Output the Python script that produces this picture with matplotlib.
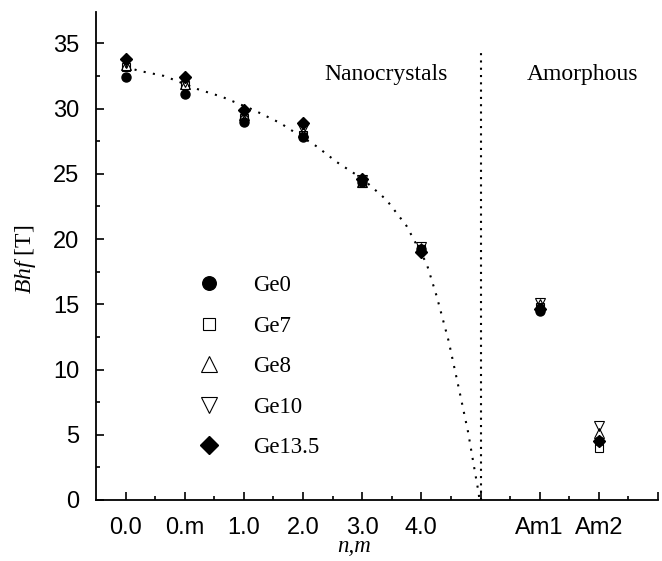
import numpy as np
import matplotlib.pyplot as plt

plt.rcParams["mathtext.fontset"] = "custom"
plt.rcParams["mathtext.it"] = "Liberation Serif:italic"
plt.rcParams["mathtext.rm"] = "Liberation Serif"

# tick positions / labels on the category axis
tick_pos = [1, 2, 3, 4, 5, 6, 7, 8, 9, 10]
tick_labels = ["0.0", "0.m", "1.0", "2.0", "3.0", "4.0", "", "Am1", "Am2", ""]

# sample positions (nanocrystals 0.0 .. 4.0, then Am1, Am2)
x = [1, 2, 3, 4, 5, 6, 8, 9]

ge0 = [32.4, 31.1, 29.0, 27.8, 24.4, 19.2, 14.5, 4.5]
ge7 = [33.2, 31.8, 29.3, 28.0, 24.3, 19.2, 14.8, 4.0]
ge8 = [33.3, 31.9, 29.5, 28.2, 24.4, 19.3, 15.0, 5.1]
ge10 = [33.5, 32.0, 29.6, 28.4, 24.5, 19.4, 15.1, 5.7]
ge135 = [33.8, 32.4, 29.9, 28.9, 24.6, 19.0, 14.6, 4.5]

# dotted guide curve
curve_x = [1.0, 1.22, 1.65, 2.21, 2.63, 3.16, 3.61, 4.23, 4.57, 5.01, 5.41,
           5.75, 6.09, 6.26, 6.46, 6.65, 6.79, 6.90, 6.97, 6.98]
curve_y = [33.2, 32.9, 32.5, 31.5, 30.9, 29.9, 28.9, 27.1, 25.9, 24.6, 23.0,
           21.0, 18.1, 15.6, 12.2, 8.2, 5.2, 2.3, 0.5, 0.0]

divider_x = 7
divider_top = 34.5

fig = plt.figure(figsize=(6.62, 5.61), dpi=100)
ax = fig.add_axes([96 / 662, 1 - 500 / 561, 562 / 662, 488 / 561])

dots = (0, (1, 3.5))
ax.plot(curve_x, curve_y, ls=dots, color="black", lw=1.5)
ax.plot([divider_x, divider_x], [0, divider_top], ls=(0, (1, 2.5)), color="black", lw=1.5)

ax.plot(x, ge0, "o", ms=6.5, color="black", ls="none", label="Ge0")
ax.plot(x, ge7, "s", ms=6, mfc="none", mec="black", mew=0.8, ls="none", label="Ge7")
ax.plot(x, ge8, "^", ms=7.5, mfc="none", mec="black", mew=0.8, ls="none", label="Ge8")
ax.plot(x, ge10, "v", ms=7.5, mfc="none", mec="black", mew=0.8, ls="none", label="Ge10")
ax.plot(x, ge135, "D", ms=6, color="black", ls="none", label="Ge13.5")

ax.set_xlim(0.5, 10)
ax.set_ylim(0, 37.4)
ax.set_xticks(tick_pos)
ax.set_xticklabels(tick_labels, family="Liberation Sans", fontsize=17)
ax.set_xticks(np.arange(1.5, 10, 1), minor=True)
ax.set_yticks(np.arange(0, 36, 5))
ax.set_yticklabels([str(v) for v in range(0, 36, 5)], family="Liberation Sans", fontsize=17)
ax.set_yticks(np.arange(2.5, 36, 5), minor=True)
ax.tick_params(which="both", direction="in", width=1.2, pad=12)
ax.tick_params(which="major", length=6)
ax.tick_params(which="minor", length=3)

for s in ["top", "right"]:
    ax.spines[s].set_visible(False)
for s in ["left", "bottom"]:
    ax.spines[s].set_linewidth(1.3)

ax.text(5.40, 32.6, "Nanocrystals", family="Liberation Serif", fontsize=17,
        ha="center", va="center")
ax.text(8.72, 32.6, "Amorphous", family="Liberation Serif", fontsize=17,
        ha="center", va="center")

fig.text(26 / 662, 1 - 259 / 561, r"$\mathit{Bhf}$ [T]", family="Liberation Serif",
         fontsize=17, rotation=90, ha="center", va="center")
fig.text(354 / 662, 1 - 547 / 561, "n,m", family="Liberation Serif", style="italic",
         fontsize=16.5, ha="center", va="center")

ax.legend(loc="upper left", bbox_to_anchor=(198 / 662, 1 - 275 / 561),
          bbox_transform=fig.transFigure, frameon=False, markerscale=1.5,
          handlelength=1.0, handletextpad=1.4, labelspacing=0.85, borderpad=0,
          borderaxespad=0, prop={"family": "Liberation Serif", "size": 16.5})

fig.savefig("out.png", dpi=100)
